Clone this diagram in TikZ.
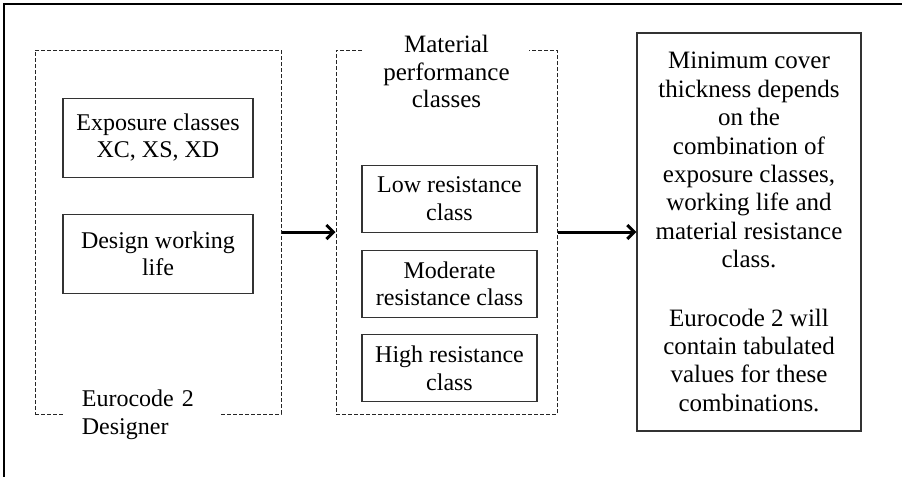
\documentclass[tikz,border=0pt]{standalone}
\usepackage{fontspec}
\setmainfont{Liberation Serif}
\usetikzlibrary{positioning,arrows.meta}

\begin{document}
\begin{tikzpicture}[
	grp/.style={rectangle, draw=black!85, line width=0.5pt, dash pattern=on 2pt off 1pt, inner sep=0pt},
	cls/.style={rectangle, draw=black!80, line width=0.6pt, align=center, inner sep=0pt},
	lbl/.style={fill=white, inner ysep=1pt},
	flow/.style={line width=1.5pt, -{Straight Barb[length=3.5pt,width=7pt]}},
	font=\fontsize{12}{13.8}\selectfont
]
	\useasboundingbox (0,0) rectangle (451pt,-238.5pt);
	\draw[line width=0.9pt] (451pt,-2pt) -- (2pt,-2pt) -- (2pt,-238.5pt);

	\node[grp, minimum width=123pt, minimum height=182pt] (L) at (79pt,-116pt) {};
	\node[grp, minimum width=110.5pt, minimum height=182pt] (M) at (223.25pt,-116pt) {};
	\node[cls, minimum width=112pt, minimum height=199pt, font=\fontsize{12.5}{14.2}\selectfont] (R) at (374.5pt,-116pt) {Minimum cover\\thickness depends\\on the\\combination of\\exposure classes,\\working life and\\material resistance\\class.\\[15pt]Eurocode 2 will\\contain tabulated\\values for these\\combinations.};

	\node[cls, minimum width=95pt, minimum height=39.5pt, below=24pt of L.north] (E) {Exposure classes\\XC, XS, XD};
	\node[cls, minimum width=95pt, minimum height=39.5pt, below=18pt of E] (W) {Design working\\life};
	\node[lbl, align=left, text width=61pt, inner xsep=8.5pt, right=15pt of L.south west] (Des) {Eurocode 2\\Designer};

	\node[lbl, align=center, text width=74.5pt, inner xsep=4pt, font=\fontsize{12.5}{13.8}\selectfont] (Mat) at ([yshift=-11pt]M.north) {Material\\performance\\classes};
	\node[cls, minimum width=87.5pt, minimum height=33.5pt, below=57.5pt of M.north, xshift=1.5pt] (Lo) {Low resistance\\class};
	\node[cls, minimum width=87.5pt, minimum height=33.5pt, below=8.5pt of Lo] (Mo) {Moderate\\resistance class};
	\node[cls, minimum width=87.5pt, minimum height=33.5pt, below=8pt of Mo] (Hi) {High resistance\\class};

	\draw[flow] (L.east) -- (M.west);
	\draw[flow] (M.east) -- (R.west);
\end{tikzpicture}
\end{document}
